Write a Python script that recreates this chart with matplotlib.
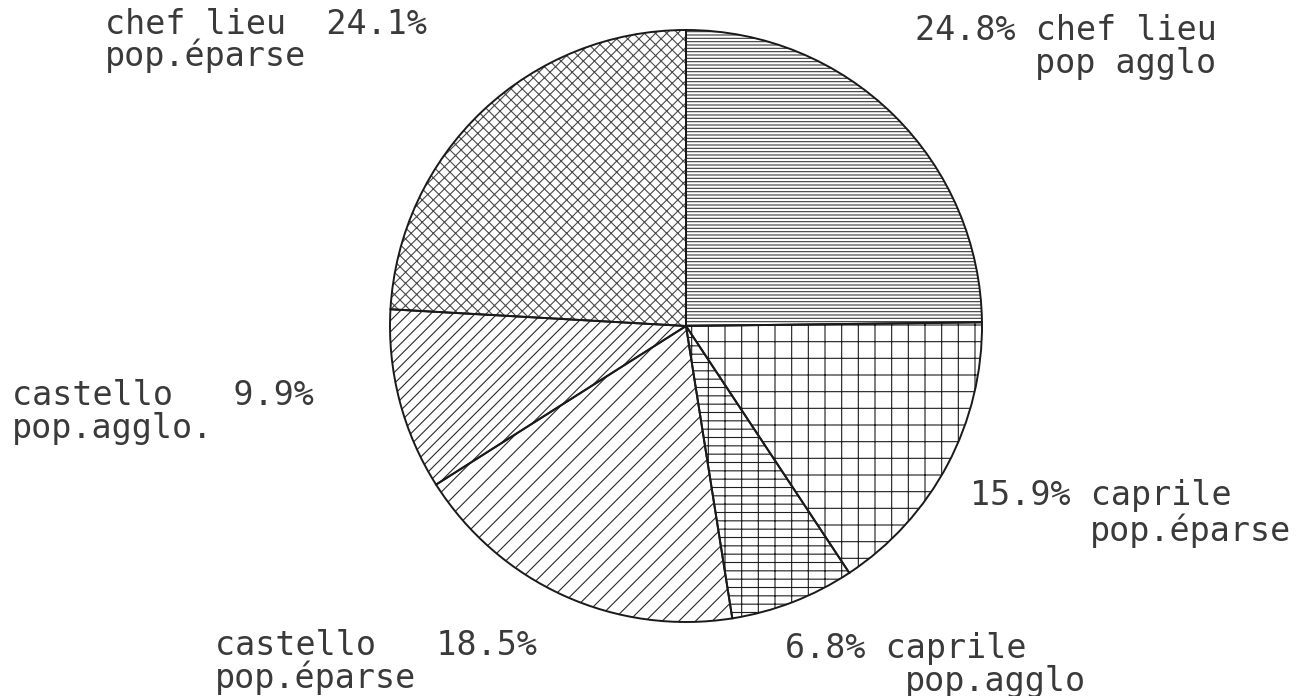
import matplotlib
matplotlib.use("Agg")
import matplotlib.pyplot as plt

# --- data (clockwise from 12 o'clock) --------------------------------
SHARES = [24.8, 15.9, 6.8, 18.5, 9.9, 24.1]
PLACES = ["chef lieu", "caprile", "caprile", "castello", "castello", "chef lieu"]
POPS = ["pop agglo", "pop.éparse", "pop.agglo", "pop.éparse", "pop.agglo.", "pop.éparse"]

# --- style / layout --------------------------------------------------
W, H = 1298, 696
CENTER = (686, H - 326)
RADIUS = 296
HATCHES = ["-----", "+", "+-", "//", "///", "xxx"]
HATCH_COLORS = ["#3a3a3a", "#1e1e1e", "#1e1e1e", "#2a2a2a", "#2a2a2a", "#4a4a4a"]
TEXT_KW = dict(family="DejaVu Sans Mono", fontsize=24, color="#3a3a3a", va="baseline")

# label placement in pixels from top-left: (x1, y1, x2, y2), side
LABEL_POS = [
    ((915, 40, 1035, 73), "right"),
    ((970, 505, 1090, 541), "right"),
    ((785, 658, 905, 691), "right"),
    ((215, 655, 215, 688), "left"),
    ((12, 405, 12, 438), "left"),
    ((105, 34, 105, 66), "left"),
]

plt.rcParams["hatch.linewidth"] = 0.8

fig = plt.figure(figsize=(W / 100, H / 100), dpi=100)
ax = fig.add_axes([0, 0, 1, 1])

# hatched fill, then the outlines on top
wedges, _ = ax.pie(SHARES, startangle=90, counterclock=False, center=CENTER,
                   radius=RADIUS, frame=True,
                   wedgeprops=dict(facecolor="white", linewidth=0))
for w, hatch, hc in zip(wedges, HATCHES, HATCH_COLORS):
    w.set_hatch(hatch)
    w.set_edgecolor(hc)
ax.pie(SHARES, startangle=90, counterclock=False, center=CENTER,
       radius=RADIUS, frame=True,
       wedgeprops=dict(facecolor="none", edgecolor="#1a1a1a", linewidth=1.4))

for share, place, pop, ((x1, y1, x2, y2), side) in zip(SHARES, PLACES, POPS, LABEL_POS):
    if side == "right":
        first = f"{share}% {place}"
    else:
        first = f"{place:<11}{share}%"
    ax.text(x1, H - y1, first, **TEXT_KW)
    ax.text(x2, H - y2, pop, **TEXT_KW)

ax.set_xlim(0, W)
ax.set_ylim(0, H)
ax.set_aspect("equal")
ax.axis("off")
fig.savefig("out.png", dpi=100, facecolor="white")
